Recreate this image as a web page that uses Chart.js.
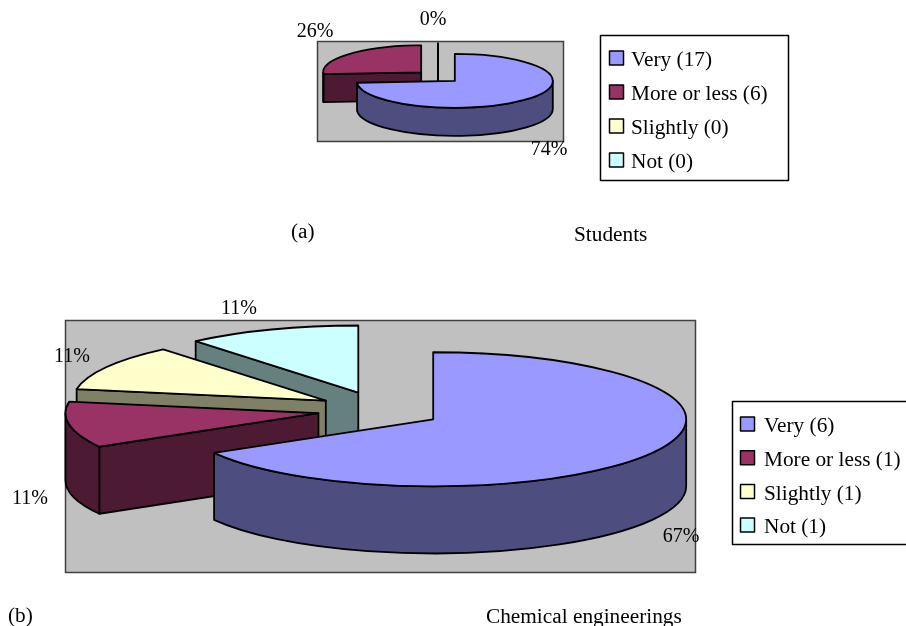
<!DOCTYPE html>
<html><head><meta charset="utf-8">
<style>
html,body{margin:0;padding:0;background:#fff;width:906px;height:626px;overflow:hidden}
canvas{position:absolute;left:0;top:0;pointer-events:none}
.cap{position:absolute;font:21.3px "Liberation Serif",serif;color:#000;white-space:nowrap;line-height:22px}
</style>
<script src="https://cdn.jsdelivr.net/npm/chart.js@4"></script>
</head><body>
<canvas id="a" width="906" height="626"></canvas>
<canvas id="b" width="906" height="626"></canvas>
<span class="cap" style="left:291px;top:220px">(a)</span>
<span class="cap" style="left:574px;top:223px">Students</span>
<span class="cap" style="left:8px;top:604px">(b)</span>
<span class="cap" style="left:486px;top:605px">Chemical engineerings</span>
<script>
const categories = ["Very", "More or less", "Slightly", "Not"];
const studentValues = [17, 6, 0, 0];
const engineerValues = [6, 1, 1, 1];
const topColors = ["#9999FF", "#993366", "#FFFFCC", "#CCFFFF"];
const wallColors = ["#4D4D80", "#4D1A33", "#808066", "#668080"];

const FONT = '"Liberation Serif", serif';

const pie3d = {
  id: 'pie3d',
  beforeDatasetsDraw(chart, args, o) {
    const ctx = chart.ctx, meta = chart.getDatasetMeta(0);
    const vals = chart.data.datasets[0].data;
    const total = vals.reduce((s, v) => s + v, 0);
    // plot background
    ctx.save();
    ctx.fillStyle = '#C0C0C0';
    ctx.strokeStyle = '#404040';
    ctx.lineWidth = 1.5;
    ctx.fillRect(o.plot[0], o.plot[1], o.plot[2], o.plot[3]);
    ctx.strokeRect(o.plot[0] + .5, o.plot[1] + .5, o.plot[2], o.plot[3]);

    const slices = meta.data.map((el, i) => {
      const p = el.getProps(['x', 'y', 'startAngle', 'endAngle', 'outerRadius']);
      const mid = (p.startAngle + p.endAngle) / 2;
      return {
        i, s: p.startAngle, e: p.endAngle, R: p.outerRadius,
        ax: p.x + o.explode * Math.cos(mid),
        ay: p.y + o.explode * Math.sin(mid) * o.explodeSquash
      };
    }).sort((a, b) => a.ay - b.ay);

    ctx.lineWidth = 1.8;
    ctx.lineJoin = 'round';
    ctx.strokeStyle = '#000';
    for (const sl of slices) {
      const {ax, ay, R, s, e, i} = sl, ry = R * o.squash, d = o.depth;
      const pt = a => [ax + R * Math.cos(a), ay + ry * Math.sin(a)];
      ctx.fillStyle = wallColors[i];
      // cut faces that look towards the viewer (an empty slice is a bare line)
      const faces = [];
      if (e <= s) faces.push(s);
      else {
        if (Math.cos(s) < -1e-6) faces.push(s);
        if (Math.cos(e) > 1e-6) faces.push(e);
      }
      for (const a of faces) {
        const q = pt(a);
        ctx.beginPath();
        ctx.moveTo(ax, ay); ctx.lineTo(q[0], q[1]);
        ctx.lineTo(q[0], q[1] + d); ctx.lineTo(ax, ay + d);
        ctx.closePath(); ctx.fill(); ctx.stroke();
      }
      // outer wall, only the part facing the viewer
      for (let n = -1; n <= 1; n++) {
        const a0 = Math.max(s, n * 2 * Math.PI), a1 = Math.min(e, n * 2 * Math.PI + Math.PI);
        if (a1 <= a0) continue;
        ctx.beginPath();
        ctx.ellipse(ax, ay, R, ry, 0, a0, a1);
        ctx.ellipse(ax, ay + d, R, ry, 0, a1, a0, true);
        ctx.closePath(); ctx.fill(); ctx.stroke();
      }
      // top face
      if (e > s) {
        ctx.fillStyle = topColors[i];
        ctx.beginPath();
        ctx.moveTo(ax, ay);
        ctx.ellipse(ax, ay, R, ry, 0, s, e);
        ctx.closePath(); ctx.fill(); ctx.stroke();
      }
    }
    // percentage labels
    ctx.fillStyle = '#000';
    ctx.font = o.labelSize + 'px ' + FONT;
    ctx.textAlign = 'center';
    ctx.textBaseline = 'middle';
    vals.forEach((v, i) => {
      if (o.labelAt[i]) ctx.fillText(Math.round(v / total * 100) + '%', o.labelAt[i][0], o.labelAt[i][1]);
    });
    // legend
    const L = o.legend;
    ctx.fillStyle = '#fff';
    ctx.strokeStyle = '#000';
    ctx.lineWidth = 1.5;
    ctx.fillRect(L.x, L.y, L.w, L.h);
    ctx.strokeRect(L.x + .5, L.y + .5, L.w, L.h);
    ctx.font = L.size + 'px ' + FONT;
    ctx.textAlign = 'left';
    chart.data.labels.forEach((lab, i) => {
      const cy = L.first + i * L.step;
      ctx.fillStyle = topColors[i];
      ctx.fillRect(L.sx, cy - 7, 14, 14);
      ctx.strokeRect(L.sx, cy - 7, 14, 14);
      ctx.fillStyle = '#000';
      ctx.fillText(lab + ' (' + vals[i] + ')', L.tx, cy + 2.5);
    });
    ctx.restore();
    return false;
  }
};

function make(id, values, cx, cy, radius, opts) {
  new Chart(document.getElementById(id), {
    type: 'pie',
    data: { labels: categories, datasets: [{ data: values, backgroundColor: topColors, borderWidth: 0 }] },
    options: {
      responsive: false, animation: false, events: [], radius: radius,
      layout: { padding: { left: Math.max(0, 2 * cx - 906), right: Math.max(0, 906 - 2 * cx), top: Math.max(0, 2 * cy - 626), bottom: Math.max(0, 626 - 2 * cy) } },
      plugins: { legend: { display: false }, tooltip: { enabled: false }, pie3d: opts }
    },
    plugins: [pie3d]
  });
}

make('a', studentValues, 438, 76.6, 98, {
  squash: .275, explode: 23, explodeSquash: .275, depth: 28, plot: [317, 41, 246, 100], labelSize: 20,
  labelAt: [[549, 150], [315, 32], [433, 20], null],
  legend: { x: 600, y: 35, w: 188, h: 145, sx: 609.5, tx: 631, first: 58, step: 34, size: 21.3 }
});
make('b', engineerValues, 379.5, 410, 253, {
  squash: .265, explode: 62, explodeSquash: .3, depth: 67, plot: [65, 320, 630, 252], labelSize: 20,
  labelAt: [[681, 537], [30, 499], [72, 357], [239, 309]],
  legend: { x: 732, y: 401, w: 180, h: 143, sx: 740.5, tx: 764, first: 424, step: 33.7, size: 21.3 }
});
</script>
</body></html>
